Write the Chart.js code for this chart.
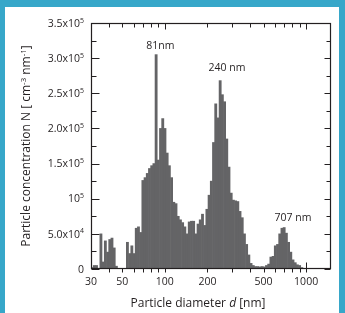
<!DOCTYPE html>
<html>
<head>
<meta charset="utf-8">
<script src="https://cdn.jsdelivr.net/npm/chart.js@4.4.1/dist/chart.umd.min.js"></script>
<style>
  html, body { margin: 0; padding: 0; background: #fff; }
  #frame {
    position: absolute; left: 0; top: 0; width: 345px; height: 313px;
    box-sizing: border-box; background: #fff;
    border-top: 7px solid #37a7c9; border-left: 5px solid #37a7c9; border-right: 6px solid #37a7c9;
  }
  canvas { display: block; }
</style>
</head>
<body>
<div id="frame"><canvas id="chart" width="334" height="306"></canvas></div>
<script>
// bin centres (nm), 64 bins per decade
const diameters = [
  30.54, 31.66, 32.82, 34.03, 35.27, 36.57, 37.91, 39.30, 40.74, 42.23,
  43.78, 45.38, 47.04, 48.77, 50.55, 52.41, 54.33, 56.32, 58.38, 60.52,
  62.74, 65.04, 67.42, 69.89, 72.45, 75.10, 77.86, 80.71, 83.66, 86.73,
  89.91, 93.20, 96.61, 100.15, 103.8, 107.6, 111.6, 115.7, 119.9, 124.3,
  128.9, 133.6, 138.5, 143.5, 148.8, 154.3, 159.9, 165.8, 171.8, 178.1,
  184.7, 191.4, 198.4, 205.7, 213.3, 221.1, 229.2, 237.6, 246.3, 255.3,
  264.6, 274.3, 284.4, 294.8, 305.6, 316.8, 328.4, 340.4, 352.9, 365.8,
  379.2, 393.1, 407.5, 422.5, 437.9, 454.0, 470.6, 487.8, 505.7, 524.2,
  543.4, 563.3, 584.0, 605.4, 627.6, 650.6, 674.4, 699.1, 724.7, 751.3,
  778.8, 807.3, 836.9, 867.6, 899.4, 932.3
];
// particle concentration, in 10^3 cm^-3 nm^-1
const concentration = [
  2, 5, 5, 1, 50, 10, 40, 24, 42, 44,
  30, 4, 0, 0, 0, 0, 38, 22, 33, 22,
  58, 60, 52, 126, 130, 136, 143, 147, 150, 305,
  155, 200, 214, 200, 165, 147, 130, 95, 93, 75,
  70, 66, 60, 50, 67, 68, 68, 50, 64, 70,
  78, 62, 85, 105, 125, 180, 235, 215, 268, 248,
  238, 185, 145, 108, 98, 97, 96, 82, 73, 50,
  35, 20, 8, 5, 3.5, 3.5, 3, 3.5, 3, 5,
  7, 17, 18, 33, 35, 50, 58, 59, 51, 38,
  24, 13, 9, 6, 5, 2
];

const yTicks = [0, 50000, 100000, 150000, 200000, 250000, 300000, 350000];
const yTickLabels = ['0', '5.0x10^{4}', '10^{5}', '1.5x10^{5}', '2.0x10^{5}', '2.5x10^{5}', '3.0x10^{5}', '3.5x10^{5}'];
const yMinorTicks = [25000, 75000, 125000, 175000, 225000, 275000, 325000];
const xTicks = [30, 50, 100, 200, 500, 1000];
const xTickLabels = ['30', '50', '100', '200', '500', '1000'];
const xMinorTicks = [40, 60, 70, 80, 90, 300, 400, 600, 700, 800, 900];

const peakLabels = ['81nm', '240 nm', '707 nm'];
const peakDiameters = [93, 275, 807];
const peakHeights = [318000, 287000, 73000];

const xTitle = 'Particle diameter /{d} [nm]';
const yTitle = 'Particle concentration N [ cm^{-3} nm^{-1}]';

const FONT = '"Open Sans", "Noto Sans", sans-serif';
const INK = '#231f20';

// split "a^{b}/{c}" into normal / superscript / italic parts
function parseRich(s) {
  const parts = [];
  const re = /\^\{([^}]*)\}|\/\{([^}]*)\}|([^^\/]+)/g;
  let m;
  while ((m = re.exec(s))) {
    if (m[1] !== undefined) parts.push({ t: m[1], sup: true });
    else if (m[2] !== undefined) parts.push({ t: m[2], it: true });
    else parts.push({ t: m[3] });
  }
  return parts;
}

function partFont(p, size) {
  const sz = p.sup ? size * 0.66 : size;
  return (p.it ? 'italic ' : '') + sz + 'px ' + FONT;
}

// draws text centred vertically on y
function drawRich(ctx, s, x, y, size, align) {
  const parts = parseRich(s);
  let w = 0;
  parts.forEach(p => { ctx.font = partFont(p, size); p.w = ctx.measureText(p.t).width; w += p.w; });
  let cx = align === 'right' ? x - w : align === 'center' ? x - w / 2 : x;
  const base = y + size * 0.36;
  ctx.textAlign = 'left';
  ctx.textBaseline = 'alphabetic';
  parts.forEach(p => {
    ctx.font = partFont(p, size);
    ctx.fillText(p.t, cx, p.sup ? base - size * 0.4 : base);
    cx += p.w;
  });
}

const axesPlugin = {
  id: 'axesPlugin',
  afterDraw(chart) {
    const { ctx, chartArea: a, scales: { x, y } } = chart;
    const L = Math.round(a.left) + 0.5, R = Math.round(a.right) - 0.5;
    const T = Math.round(a.top) + 0.5, B = Math.round(a.bottom) - 0.5;
    ctx.save();
    ctx.strokeStyle = INK;
    ctx.fillStyle = INK;
    ctx.lineWidth = 1.2;
    ctx.strokeRect(L, T, R - L, B - T);

    ctx.lineWidth = 1;
    ctx.beginPath();
    yTicks.forEach(v => {
      const py = Math.round(y.getPixelForValue(v)) + 0.5;
      ctx.moveTo(L, py); ctx.lineTo(L + 8, py);
      ctx.moveTo(R, py); ctx.lineTo(R - 6, py);
    });
    yMinorTicks.forEach(v => {
      const py = Math.round(y.getPixelForValue(v)) + 0.5;
      ctx.moveTo(L, py); ctx.lineTo(L + 5, py);
      ctx.moveTo(R, py); ctx.lineTo(R - 4, py);
    });
    xTicks.concat(xMinorTicks).forEach(v => {
      if (v === 30) return;
      const px = Math.round(x.getPixelForValue(v)) + 0.5;
      const big = v === 100 || v === 1000;
      ctx.moveTo(px, T); ctx.lineTo(px, T + (big ? 6 : 4));
      ctx.moveTo(px, B); ctx.lineTo(px, B + 4);
      if (v === 1000) { ctx.moveTo(px, B); ctx.lineTo(px, B - 6); }
    });
    ctx.stroke();

    yTicks.forEach((v, i) => drawRich(ctx, yTickLabels[i], L - 7.5, y.getPixelForValue(v), 10.5, 'right'));
    xTicks.forEach((v, i) => drawRich(ctx, xTickLabels[i], x.getPixelForValue(v), B + 13, 10.5, 'center'));

    peakLabels.forEach((t, i) =>
      drawRich(ctx, t, x.getPixelForValue(peakDiameters[i]), y.getPixelForValue(peakHeights[i]), 10.5, 'center'));

    drawRich(ctx, xTitle, (a.left + a.right) / 2 - 13, 296, 12, 'center');

    ctx.translate(21, 139);
    ctx.rotate(-Math.PI / 2);
    drawRich(ctx, yTitle, 0, 0, 12, 'center');
    ctx.restore();
  }
};

new Chart(document.getElementById('chart'), {
  type: 'bar',
  data: {
    datasets: [{
      data: diameters.map((d, i) => ({ x: d, y: concentration[i] * 1000 })),
      backgroundColor: '#646466',
      borderWidth: 0,
      barPercentage: 1,
      categoryPercentage: 1
    }]
  },
  options: {
    responsive: false,
    animation: false,
    layout: { padding: { left: 86, top: 16, right: 8, bottom: 44 } },
    plugins: { legend: { display: false }, tooltip: { enabled: false } },
    scales: {
      x: { type: 'logarithmic', min: 30, max: 1500, offset: false, display: false },
      y: { type: 'linear', min: 0, max: 350000, display: false }
    }
  },
  plugins: [axesPlugin]
});
</script>
</body>
</html>
